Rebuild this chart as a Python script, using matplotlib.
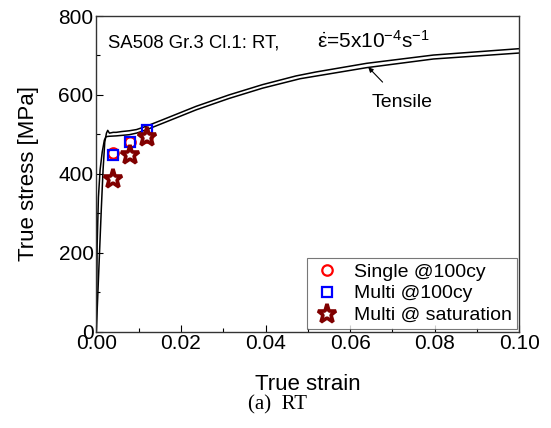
import numpy as np
import matplotlib.pyplot as plt

plt.rcParams['font.family'] = ['Liberation Sans', 'DejaVu Sans']
plt.rcParams['mathtext.fontset'] = 'custom'
plt.rcParams['mathtext.rm'] = 'Liberation Sans'
plt.rcParams['mathtext.it'] = 'Liberation Sans'

# tensile curves (two lines)
strain_a = [0.0, 0.0004, 0.0008, 0.0012, 0.0016, 0.0020, 0.0024, 0.0027, 0.0031, 0.0040,
            0.0047, 0.0060, 0.0078, 0.0095, 0.0117, 0.0157, 0.0236, 0.0314, 0.0393,
            0.0472, 0.0519, 0.0639, 0.0797, 0.0998, 0.1005]
stress_a = [0, 105, 210, 315, 410, 480, 503, 510, 503, 505,
            505, 507, 509, 512, 520, 537, 571, 600, 626,
            648, 658, 680, 701, 717, 717]
strain_b = [0.0, 0.0002, 0.0005, 0.0009, 0.0014, 0.0019, 0.0023, 0.0030, 0.0047,
            0.0078, 0.0095, 0.0117, 0.0157, 0.0236, 0.0314, 0.0393, 0.0482,
            0.0639, 0.0797, 0.0998, 0.1005]
stress_b = [0, 220, 340, 410, 455, 485, 494, 495, 496,
            499, 503, 511, 528, 562, 591, 617, 641,
            669, 691, 706, 706]

# fatigue points
single_x = [0.0039, 0.0079, 0.0120]
single_y = [453, 481, 494]
multi_x = [0.0039, 0.0079, 0.0120]
multi_y = [447, 480, 511]
sat_x = [0.0039, 0.0079, 0.0120]
sat_y = [386, 447, 492]

fig = plt.figure(figsize=(5.51, 4.28), dpi=100)
ax = fig.add_axes([96.3/551, 1 - 331.5/428, 423/551, 315.5/428])

ax.plot(strain_a, stress_a, color='black', lw=1.1)
ax.plot(strain_b, stress_b, color='black', lw=1.1)

ax.plot(single_x, single_y, 'o', ms=7.5, mfc='none', mec='red', mew=1.6, ls='none',
        label='Single @100cy')
ax.plot(multi_x, multi_y, 's', ms=7.5, mfc='none', mec='blue', mew=1.6, ls='none',
        label='Multi @100cy')
ax.plot(sat_x, sat_y, '*', ms=14, mfc='white', mec='#800000', mew=2.6, ls='none',
        label='Multi @ saturation')

ax.annotate('Tensile', xy=(0.0643, 670), xytext=(0.0723, 581), fontsize=14,
            ha='center', va='center',
            arrowprops=dict(arrowstyle='-|>', color='black', lw=0.8,
                            mutation_scale=7, shrinkA=9, shrinkB=0))

ax.text(0.0028, 732, 'SA508 Gr.3 Cl.1: RT,', fontsize=13.3, va='center', ha='left')
ax.text(0.0521, 736, r'$\dot{\varepsilon}$=5x10$^{-4}$s$^{-1}$',
        fontsize=15, va='center', ha='left')

ax.set_xlim(0, 0.10)
ax.set_ylim(0, 800)
ax.set_xticks(np.arange(0, 0.101, 0.02))
ax.set_xticks(np.arange(0, 0.101, 0.01), minor=True)
ax.set_yticks(np.arange(0, 801, 200))
ax.set_yticks(np.arange(0, 801, 100), minor=True)
ax.set_xticklabels(['0.00', '0.02', '0.04', '0.06', '0.08', '0.10'])
ax.tick_params(which='both', direction='in', labelsize=15, width=0.8)
ax.tick_params(which='major', length=5, pad=2)
ax.tick_params(which='minor', length=3)
for s in ax.spines.values():
    s.set_linewidth(1.0)
    s.set_color('#333333')

ax.set_xlabel('True strain', fontsize=16, labelpad=15)
ax.set_ylabel('True stress [MPa]', fontsize=16, labelpad=14)

leg = ax.legend(loc='lower right', fontsize=14, frameon=True, fancybox=False,
                borderpad=0.25, labelspacing=0.22, handletextpad=0.6,
                handlelength=1.6, borderaxespad=0.12)
leg.get_frame().set_edgecolor('#555555')
leg.get_frame().set_linewidth(0.8)

fig.text(277/551, 1 - 405/428, '(a)  RT', fontsize=15, family='Liberation Serif',
         ha='center', va='center')

fig.savefig('out.png', dpi=100)
